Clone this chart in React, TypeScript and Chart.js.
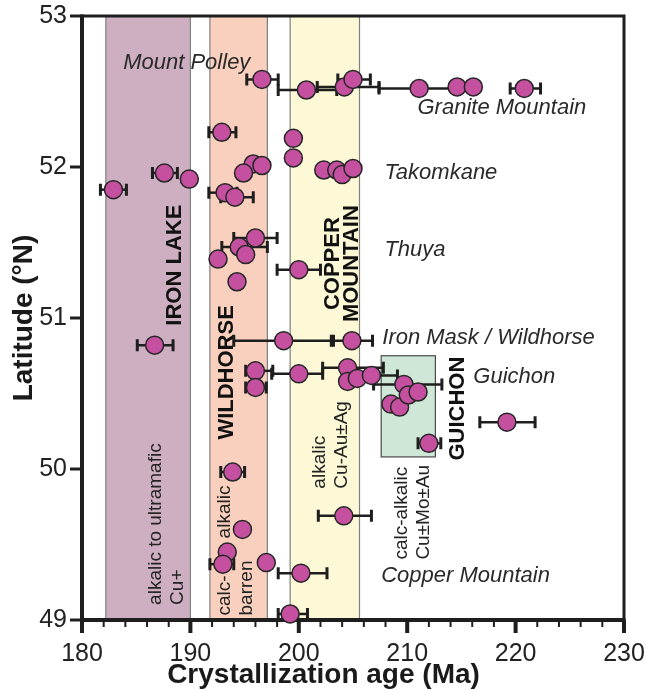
import { useEffect, useRef } from "react";
import { Chart, registerables } from "chart.js";

Chart.register(...registerables);

// ---- data: crystallization ages (Ma) and latitudes (°N) ----
const ages = [
  196.6, 200.7, 204.2, 205.0, 211.1, 214.6, 216.1, 220.8,
  192.9, 199.5, 199.5, 195.8, 196.6, 194.9, 187.6, 189.9, 182.9,
  202.3, 203.5, 204.0, 205.0, 193.2, 194.1,
  196.0, 194.5, 195.1, 192.55, 194.3, 200.0,
  186.7, 198.6, 204.9,
  196.0, 196.0, 200.0, 204.5, 204.5, 205.4, 206.7, 209.7,
  208.5, 209.3, 210.1, 211.0, 212.0, 219.2,
  193.9, 194.8, 193.4, 193.0, 197.0, 200.2, 199.2, 204.15,
];
const latitudes = [
  52.58, 52.51, 52.53, 52.58, 52.52, 52.53, 52.53, 52.52,
  52.23, 52.19, 52.06, 52.02, 52.01, 51.96, 51.96, 51.92, 51.85,
  51.98, 51.98, 51.95, 51.99, 51.83, 51.8,
  51.53, 51.47, 51.42, 51.39, 51.24, 51.32,
  50.82, 50.85, 50.85,
  50.65, 50.54, 50.63, 50.67, 50.58, 50.6, 50.62, 50.56,
  50.43, 50.41, 50.49, 50.51, 50.17, 50.31,
  49.98, 49.6, 49.45, 49.37, 49.38, 49.31, 49.04, 49.69,
];
const ageErrLow = [
  195.2, 198.1, 201.7, 203.6, 207.4, null, null, 219.5,
  191.7, null, null, null, null, null, 186.5, null, 181.7,
  null, null, null, null, 191.7, 192.8,
  194.0, 192.9, null, null, null, 198.0,
  185.1, 194.0, 203.0,
  195.1, 195.1, 197.5, 202.2, null, null, 205.0, 206.9,
  null, null, null, null, 211.0, 216.7,
  192.8, null, null, 191.8, null, 198.1, 198.1, 201.8,
];
const ageErrHigh = [
  198.1, 203.5, 207.4, 206.6, 214.6, null, null, 222.3,
  194.2, null, null, null, null, null, 188.8, null, 184.1,
  null, null, null, null, 194.3, 195.8,
  198.0, 197.1, null, null, null, 202.0,
  188.4, 203.2, 206.8,
  197.6, 197.0, 202.2, 207.8, null, null, 209.1, 213.2,
  null, null, null, null, 213.1, 221.8,
  195.0, null, null, 194.0, null, 202.6, 200.8, 206.7,
];

// ---- shaded age bands ----
const bandStart = [182.2, 191.8, 199.2];
const bandEnd = [190.0, 197.1, 205.6];
const bandColors = ["#ceafc1", "#f9d0bd", "#fdf8d6"];

const guichonBoxAge = [207.6, 212.6];
const guichonBoxLat = [50.08, 50.75];

// ---- deposit names (italic) ----
const placeNames = ["Mount Polley", "Granite Mountain", "Takomkane", "Thuya", "Iron Mask / Wildhorse", "Guichon", "Copper Mountain"];
const placeAge = [183.8, 210.95, 207.9, 207.9, 207.7, 216.1, 207.6];
const placeLat = [52.69, 52.39, 51.96, 51.45, 50.87, 50.61, 49.29];

// ---- suite names (bold, vertical) ----
const suiteLines = [["IRON LAKE"], ["WILDHORSE"], ["COPPER", "MOUNTAIN"], ["GUICHON"]];
const suiteAge = [188.55, 193.35, 204.05, 214.65];
const suiteLat = [51.35, 50.64, 51.36, 50.4];

// ---- mineralization types (vertical) ----
const typeLines = [["alkalic to ultramafic", "Cu+"], ["calc-       alkalic", "barren"], ["alkalic", "Cu-Au±Ag"], ["calc-alkalic", "Cu±Mo±Au"]];
const typeAge = [187.8, 194.15, 202.97, 210.49];
const typeLat = [49.1, 49.03, 49.87, 49.4];

const xTitle = "Crystallization age (Ma)";
const yTitle = "Latitude (°N)";

const FONT = "'Liberation Sans', Arial, Helvetica, sans-serif";
const INK = "#1e1e1e";

function drawVertical(ctx: CanvasRenderingContext2D, lines: string[], px: number, py: number, lh: number, align: CanvasTextAlign) {
  ctx.save();
  ctx.translate(px, py);
  ctx.rotate(-Math.PI / 2);
  ctx.textAlign = align;
  ctx.textBaseline = "middle";
  const n = lines.length;
  lines.forEach((t, i) => {
    ctx.fillText(t, 0, (i - (n - 1) / 2) * lh);
  });
  ctx.restore();
}

const overlayPlugin = {
  id: "overlay",
  beforeDatasetsDraw(chart: any) {
    const { ctx, chartArea: a } = chart;
    const xs = chart.scales.x;
    const ys = chart.scales.y;
    ctx.save();

    // bands
    for (let i = 0; i < bandStart.length; i++) {
      const x0 = xs.getPixelForValue(bandStart[i]);
      const x1 = xs.getPixelForValue(bandEnd[i]);
      ctx.fillStyle = bandColors[i];
      ctx.fillRect(x0, a.top, x1 - x0, a.bottom - a.top);
      ctx.strokeStyle = "#808080";
      ctx.lineWidth = 1.2;
      ctx.beginPath();
      ctx.moveTo(x0, a.top);
      ctx.lineTo(x0, a.bottom);
      ctx.moveTo(x1, a.top);
      ctx.lineTo(x1, a.bottom);
      ctx.stroke();
    }
    // Guichon box
    {
      const x0 = xs.getPixelForValue(guichonBoxAge[0]);
      const x1 = xs.getPixelForValue(guichonBoxAge[1]);
      const y0 = ys.getPixelForValue(guichonBoxLat[1]);
      const y1 = ys.getPixelForValue(guichonBoxLat[0]);
      ctx.fillStyle = "#cfe7d6";
      ctx.fillRect(x0, y0, x1 - x0, y1 - y0);
      ctx.strokeStyle = "#4a4a4a";
      ctx.lineWidth = 1.2;
      ctx.strokeRect(x0, y0, x1 - x0, y1 - y0);
    }

    // deposit names
    ctx.fillStyle = "#2a2a2a";
    ctx.font = `italic 22px ${FONT}`;
    ctx.textAlign = "left";
    ctx.textBaseline = "middle";
    placeNames.forEach((t, i) => {
      ctx.fillText(t, xs.getPixelForValue(placeAge[i]), ys.getPixelForValue(placeLat[i]));
    });

    // suite names
    ctx.fillStyle = "#111";
    ctx.font = `bold 22px ${FONT}`;
    suiteLines.forEach((lines, i) => {
      drawVertical(ctx, lines, xs.getPixelForValue(suiteAge[i]), ys.getPixelForValue(suiteLat[i]), 19, "center");
    });

    // mineralization types
    ctx.fillStyle = "#222";
    ctx.font = `19px ${FONT}`;
    typeLines.forEach((lines, i) => {
      drawVertical(ctx, lines, xs.getPixelForValue(typeAge[i]), ys.getPixelForValue(typeLat[i]), 22, "left");
    });

    // frame
    ctx.strokeStyle = INK;
    ctx.lineWidth = 3;
    ctx.beginPath();
    ctx.moveTo(a.left, a.top);
    ctx.lineTo(a.right, a.top);
    ctx.lineTo(a.right, a.bottom);
    ctx.stroke();
    ctx.lineWidth = 4;
    ctx.beginPath();
    ctx.moveTo(a.left, a.top - 1.5);
    ctx.lineTo(a.left, a.bottom);
    ctx.lineTo(a.right + 1.5, a.bottom);
    ctx.stroke();

    // y ticks
    ctx.lineWidth = 3;
    ys.ticks.forEach((t: any) => {
      const py = ys.getPixelForValue(t.value);
      ctx.beginPath();
      ctx.moveTo(a.left - 12, py);
      ctx.lineTo(a.left, py);
      ctx.stroke();
    });
    // x ticks (major every 10 Ma, minor every 2 Ma)
    for (let v = xs.min; v <= xs.max + 1e-9; v += 2) {
      const px = xs.getPixelForValue(v);
      const major = Math.abs(v % 10) < 1e-9;
      ctx.lineWidth = major ? 4 : 2;
      ctx.beginPath();
      ctx.moveTo(px, a.bottom);
      ctx.lineTo(px, a.bottom + (major ? 13 : 7));
      ctx.stroke();
    }

    // error bars
    ctx.strokeStyle = INK;
    for (let i = 0; i < ages.length; i++) {
      const lo = ageErrLow[i];
      const hi = ageErrHigh[i];
      if (lo == null || hi == null) continue;
      const py = ys.getPixelForValue(latitudes[i]);
      const x0 = xs.getPixelForValue(lo);
      const x1 = xs.getPixelForValue(hi);
      ctx.lineWidth = 2.5;
      ctx.beginPath();
      ctx.moveTo(x0, py);
      ctx.lineTo(x1, py);
      ctx.stroke();
      ctx.lineWidth = 3;
      ctx.beginPath();
      ctx.moveTo(x0, py - 6);
      ctx.lineTo(x0, py + 6);
      ctx.moveTo(x1, py - 6);
      ctx.lineTo(x1, py + 6);
      ctx.stroke();
    }
    ctx.restore();
  },
  afterDraw(chart: any) {
    const { ctx, width } = chart;
    ctx.save();
    ctx.fillStyle = "#1a1a1a";
    ctx.font = `bold 28px ${FONT}`;
    ctx.textAlign = "center";
    ctx.textBaseline = "alphabetic";
    ctx.fillText(xTitle, width / 2, 683);
    ctx.translate(32, chart.chartArea.top + (chart.chartArea.bottom - chart.chartArea.top) / 2);
    ctx.rotate(-Math.PI / 2);
    ctx.fillText(yTitle, 0, 0);
    ctx.restore();
  },
};

export default function App() {
  const ref = useRef<HTMLCanvasElement | null>(null);
  useEffect(() => {
    if (!ref.current) return;
    const chart = new Chart(ref.current, {
      type: "scatter",
      data: {
        datasets: [
          {
            data: ages.map((a, i) => ({ x: a, y: latitudes[i] })),
            pointRadius: 9,
            pointHoverRadius: 9,
            backgroundColor: "#c4509f",
            borderColor: "#262626",
            borderWidth: 1.5,
            clip: false,
          } as any,
        ],
      },
      options: {
        animation: false,
        responsive: false,
        events: [],
        layout: { padding: { left: 0, top: 16, right: 23, bottom: 0 } },
        plugins: { legend: { display: false }, tooltip: { enabled: false } },
        scales: {
          x: {
            type: "linear",
            min: 180,
            max: 230,
            afterFit: (s: any) => { s.height = 70; },
            grid: { display: false, drawTicks: true, tickLength: 17 },
            border: { display: false },
            ticks: {
              stepSize: 10,
              padding: 2,
              maxRotation: 0,
              autoSkip: false,
              color: "#222",
              font: { family: FONT, size: 25 },
            },
          },
          y: {
            type: "linear",
            min: 49,
            max: 53,
            afterFit: (s: any) => { s.width = 82; },
            grid: { display: false, drawTicks: true, tickLength: 14 },
            border: { display: false },
            ticks: {
              stepSize: 1,
              padding: 1,
              color: "#222",
              font: { family: FONT, size: 25 },
            },
          },
        },
      },
      plugins: [overlayPlugin],
    });
    return () => chart.destroy();
  }, []);
  return (
    <canvas
      ref={ref}
      width={647}
      height={690}
      style={{ position: "absolute", left: 0, top: 0, display: "block" }}
    />
  );
}
